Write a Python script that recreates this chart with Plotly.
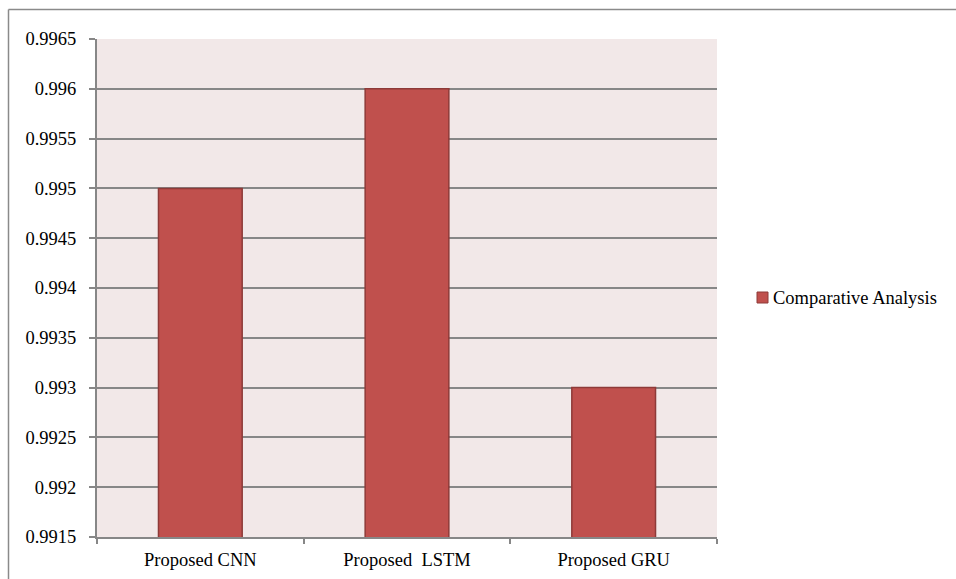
import plotly.graph_objects as go

categories = ["Proposed CNN", "Proposed\u00a0 LSTM", "Proposed GRU"]
values = [0.995, 0.996, 0.993]
series_name = "Comparative Analysis"
y_min, y_max, y_step = 0.9915, 0.9965, 0.0005

W, H = 956, 579
L, R, T, B = 97, 239, 39, 42
pw, ph = W - L - R, H - T - B

def px_x(x):
    return (x - L) / pw

def px_y(y):
    return (H - B - y) / ph

FONT = "Liberation Serif, Times New Roman, serif"
BAR = "#C0504D"
BAR_LINE = "#8E3A38"
GRID = "#878787"

fig = go.Figure()
fig.add_trace(go.Bar(
    x=categories, y=values, name=series_name,
    marker=dict(color=BAR, line=dict(color=BAR_LINE, width=1.5)),
    width=0.405, showlegend=False,
))

fig.update_layout(
    width=W, height=H,
    margin=dict(l=L, r=R, t=T, b=B, pad=0),
    paper_bgcolor="white",
    plot_bgcolor="#F2E8E8",
    font=dict(family=FONT, size=18.5, color="black"),
    showlegend=False,
)
fig.update_yaxes(
    range=[y_min, y_max], dtick=y_step, tick0=y_min, tickformat=".4~f",
    showgrid=True, gridcolor=GRID, gridwidth=1.5,
    showline=True, linecolor=GRID, linewidth=2,
    ticks="outside", ticklen=6, tickcolor=GRID, tickwidth=1.5,
    zeroline=False, ticklabelstandoff=9, automargin=False,
)
fig.update_xaxes(
    showline=True, linecolor=GRID, linewidth=2,
    ticks="outside", tickson="boundaries", ticklen=5, tickcolor=GRID, tickwidth=1.5,
    showgrid=False, ticklabelstandoff=5, automargin=False,
)

# Legend (manual, to match the compact marker/text spacing)
fig.add_shape(type="rect", xref="paper", yref="paper",
              x0=px_x(757), x1=px_x(768), y0=px_y(303), y1=px_y(292),
              fillcolor=BAR, line=dict(color=BAR_LINE, width=1))
fig.add_annotation(xref="paper", yref="paper", x=px_x(771), y=px_y(297.5),
                   text=series_name, showarrow=False, xanchor="left", yanchor="middle",
                   font=dict(family=FONT, size=18.5, color="black"))

# Outer chart border (top and left visible)
fig.add_shape(type="line", xref="paper", yref="paper",
              x0=px_x(8.5), x1=px_x(960), y0=px_y(9.5), y1=px_y(9.5),
              line=dict(color="#8A8A8A", width=1.5))
fig.add_shape(type="line", xref="paper", yref="paper",
              x0=px_x(8.5), x1=px_x(8.5), y0=px_y(9.5), y1=px_y(600),
              line=dict(color="#8A8A8A", width=1.5))

fig.write_html("out.html")
